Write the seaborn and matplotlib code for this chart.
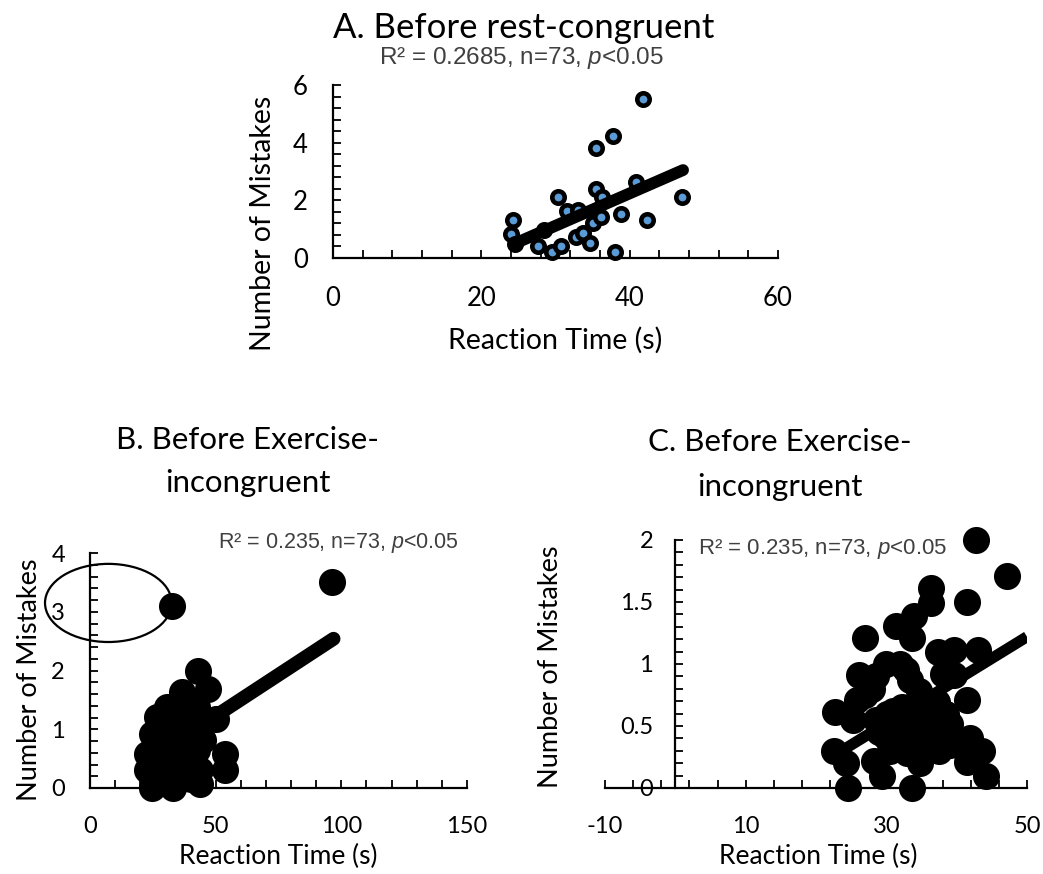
import numpy as np
import pandas as pd
import matplotlib
matplotlib.use("Agg")
import matplotlib.pyplot as plt
from matplotlib import font_manager
from matplotlib.ticker import FixedLocator
from matplotlib.patches import Ellipse
import seaborn as sns

# ---------------- data ----------------
# Panel A: Before rest-congruent
a_rt = [24.3, 24.0, 24.5, 27.7, 28.4, 29.5, 30.7, 30.4, 31.6, 33.0, 32.8, 33.7, 34.6,
        35.1, 35.5, 35.5, 36.2, 36.3, 37.8, 38.0, 38.8, 40.8, 41.8, 42.4, 47.1]
a_mis = [1.33, 0.82, 0.50, 0.42, 0.96, 0.21, 0.42, 2.12, 1.63, 1.66, 0.73, 0.88, 0.52,
         1.22, 2.41, 3.82, 1.42, 2.12, 4.23, 0.21, 1.52, 2.64, 5.51, 1.31, 2.12]
a_fit_x = [24.5, 47.2]
a_fit_y = [0.50, 3.05]

# Panel B: Before Exercise-incongruent
b_rt = [96.2, 32.8, 42.9, 47.1, 50.2, 53.8, 53.8, 36.5, 26.5, 24.6, 22.6, 22.6, 24.6,
        33.2, 43.8, 42.5, 42.5, 38.5, 30.5, 31.9, 38.5, 30.5, 34.5, 27.9, 33.2, 39.8,
        45.1, 38.5, 26.5, 29.2, 43.8, 28.0, 35.0, 40.0, 36.0, 31.0, 41.0, 37.0]
b_mis = [3.51, 3.10, 2.00, 1.69, 1.18, 0.58, 0.30, 1.63, 1.21, 0.92, 0.58, 0.30, 0.00,
         0.00, 0.07, 1.38, 0.64, 0.92, 0.81, 0.36, 0.24, 1.38, 1.27, 0.13, 0.58, 0.53,
         0.81, 1.21, 0.70, 1.04, 0.30, 0.50, 0.45, 0.15, 1.00, 1.10, 0.95, 0.70]
b_fit_x = [22.6, 96.9]
b_fit_y = [0.46, 2.54]
b_circle_center = (7.3, 3.15)
b_circle_size = (50.4, 1.33)

# Panel C: Before Exercise-incongruent (zoomed)
c_rt = [42.7, 47.2, 36.3, 36.3, 33.9, 31.4, 33.7, 27.0, 41.5, 37.4, 39.6, 43.1, 26.1,
        29.9, 32.0, 39.6, 41.5, 33.4, 28.0, 25.8, 22.7, 34.6, 37.2, 30.1, 25.3, 39.0,
        41.9, 43.6, 22.5, 24.2, 28.2, 29.4, 34.8, 36.3, 41.5, 44.1, 24.6, 33.7, 31.5,
        32.9, 35.8, 30.0, 28.5, 37.2, 32.2, 31.0, 33.5, 36.0, 38.5, 30.5, 33.0, 37.5,
        35.0, 29.0, 39.0, 27.0, 28.5, 32.8, 38.0]
c_mis = [2.00, 1.71, 1.61, 1.49, 1.39, 1.31, 1.21, 1.21, 1.50, 1.10, 1.11, 1.11, 0.91,
         1.00, 1.00, 0.91, 0.71, 0.87, 0.80, 0.71, 0.61, 0.78, 0.69, 0.60, 0.55, 0.52,
         0.40, 0.30, 0.30, 0.20, 0.22, 0.10, 0.20, 0.33, 0.21, 0.10, 0.00, 0.00, 0.47,
         0.28, 0.49, 0.41, 0.55, 0.44, 0.65, 0.62, 0.55, 0.62, 0.60, 0.30, 0.38, 0.30,
         0.45, 0.45, 0.35, 0.75, 0.90, 0.95, 0.92]
c_fit_x = [22.5, 50.0]
c_fit_y = [0.26, 1.22]

titles = ["A. Before rest-congruent", "B. Before Exercise-", "C. Before Exercise-",
          "incongruent"]
stats_a = r"R² = 0.2685, n=73, $\it{p}$<0.05"
stats_bc = r"R² = 0.235, n=73, $\it{p}$<0.05"
xlab = "Reaction Time (s)"
ylab = "Number of Mistakes"

a_xticks = [0, 20, 40, 60]
a_yticks = [0, 2, 4, 6]
b_xticks = [0, 50, 100, 150]
b_yticks = [0, 1, 2, 3, 4]
c_xticks = [-10, 10, 30, 50]
c_yticks = [0, 0.5, 1, 1.5, 2]
c_yticklabels = ["0", "0.5", "1", "1.5", "2"]

# ---------------- style ----------------
sns.set_theme(style="white")
avail = {f.name for f in font_manager.fontManager.ttflist}
main_font = "Lato" if "Lato" in avail else "DejaVu Sans"
narrow_font = "Liberation Sans Narrow" if "Liberation Sans Narrow" in avail else "Liberation Sans"
plt.rcParams["font.family"] = [main_font, "DejaVu Sans"]
plt.rcParams["text.color"] = "black"
plt.rcParams["axes.labelcolor"] = "black"
plt.rcParams["xtick.color"] = "black"
plt.rcParams["ytick.color"] = "black"
plt.rcParams["axes.unicode_minus"] = False
plt.rcParams["mathtext.fontset"] = "custom"
plt.rcParams["mathtext.it"] = "Liberation Sans:italic"
plt.rcParams["mathtext.rm"] = "Liberation Sans"

W, H = 1043, 874
fig = plt.figure(figsize=(W / 100, H / 100), dpi=100)


def px_axes(x0, y0, x1, y1):
    return fig.add_axes([x0 / W, 1 - y1 / H, (x1 - x0) / W, (y1 - y0) / H])


def fx(x):
    return x / W


def fy(y):
    return 1 - y / H


def style_axis(ax, xmaj, xmin, ymaj, ymin, tick_fs, xpad, ypad):
    for s in ["top", "right"]:
        ax.spines[s].set_visible(False)
    for s in ["left", "bottom"]:
        ax.spines[s].set_color("black")
        ax.spines[s].set_linewidth(1.6)
    ax.xaxis.set_major_locator(FixedLocator(xmaj))
    ax.xaxis.set_minor_locator(FixedLocator(xmin))
    ax.yaxis.set_major_locator(FixedLocator(ymaj))
    ax.yaxis.set_minor_locator(FixedLocator(ymin))
    ax.tick_params(which="both", direction="in", length=6, width=1.3, color="black",
                   bottom=True, left=True)
    ax.tick_params(axis="x", which="major", pad=xpad, labelsize=tick_fs, labelcolor="black")
    ax.tick_params(axis="y", which="major", pad=ypad, labelsize=tick_fs, labelcolor="black")
    ax.set_xlabel("")
    ax.set_ylabel("")


# ---------------- Panel A ----------------
axA = px_axes(333, 85, 778, 258)
axA.set_xlim(0, 60)
axA.set_ylim(0, 6)
sns.scatterplot(x=a_rt, y=a_mis, ax=axA, s=80, color="#5B9BD5", edgecolor="black",
                linewidth=3.3, clip_on=False, zorder=3, legend=False)
sns.lineplot(x=a_fit_x, y=a_fit_y, ax=axA, color="black", linewidth=8.5,
             solid_capstyle="round", zorder=4, legend=False)
style_axis(axA, a_xticks, np.arange(0, 61, 4), a_yticks, np.arange(0, 6.01, 0.4), 18.5, 20, 18)
fig.text(fx(524), fy(28), titles[0], ha="center", va="center", fontsize=25)
fig.text(fx(521), fy(58), stats_a, ha="center", va="center", fontsize=17.5,
         family="Liberation Sans", color="#404040")
fig.text(fx(555), fy(340), xlab, ha="center", va="center", fontsize=20.5)
fig.text(fx(263), fy(223), ylab, ha="center", va="center", rotation=90, fontsize=20.5)

# ---------------- Panel B ----------------
axB = px_axes(90, 553, 467, 788)
axB.set_xlim(0, 150)
axB.set_ylim(0, 4)
sns.scatterplot(x=b_rt, y=b_mis, ax=axB, s=380, color="black", linewidth=0,
                clip_on=False, zorder=3, legend=False)
sns.lineplot(x=b_fit_x, y=b_fit_y, ax=axB, color="black", linewidth=10,
             solid_capstyle="round", zorder=3, legend=False)
style_axis(axB, b_xticks, np.arange(0, 151, 10), b_yticks, np.arange(0, 4.01, 0.2), 17, 20, 18)
axB.add_patch(Ellipse(b_circle_center, b_circle_size[0], b_circle_size[1], fill=False,
                      edgecolor="black", linewidth=1.6, clip_on=False, zorder=5))
fig.text(fx(248), fy(440), titles[1], ha="center", va="center", fontsize=22.5)
fig.text(fx(248), fy(483), titles[3], ha="center", va="center", fontsize=22.5)
fig.text(fx(338), fy(543), stats_bc, ha="center", va="center", fontsize=15.5,
         family=narrow_font, color="#404040")
fig.text(fx(278), fy(856), xlab, ha="center", va="center", fontsize=19)
fig.text(fx(30), fy(680), ylab, ha="center", va="center", rotation=90, fontsize=19.5)

# ---------------- Panel C ----------------
axC = px_axes(605, 540, 1027, 788)
axC.set_xlim(-10, 50)
axC.set_ylim(0, 2)
sns.scatterplot(x=c_rt, y=c_mis, ax=axC, s=380, color="black", linewidth=0,
                clip_on=False, zorder=3, legend=False)
sns.lineplot(x=c_fit_x, y=c_fit_y, ax=axC, color="black", linewidth=8,
             solid_capstyle="butt", zorder=3, legend=False)
style_axis(axC, c_xticks, np.arange(-10, 51, 4), c_yticks, np.arange(0, 2.01, 0.1), 17, 20, 16)
axC.spines["left"].set_position(("data", 0))
axC.set_yticklabels(c_yticklabels)
fig.text(fx(780), fy(442), titles[2], ha="center", va="center", fontsize=22.5)
fig.text(fx(780), fy(487), titles[3], ha="center", va="center", fontsize=22.5)
fig.text(fx(823), fy(549), stats_bc, ha="center", va="center", fontsize=16,
         family=narrow_font, color="#404040")
fig.text(fx(818), fy(856), xlab, ha="center", va="center", fontsize=19)
fig.text(fx(550), fy(667), ylab, ha="center", va="center", rotation=90, fontsize=19.5)

fig.savefig("out.png", dpi=100)
